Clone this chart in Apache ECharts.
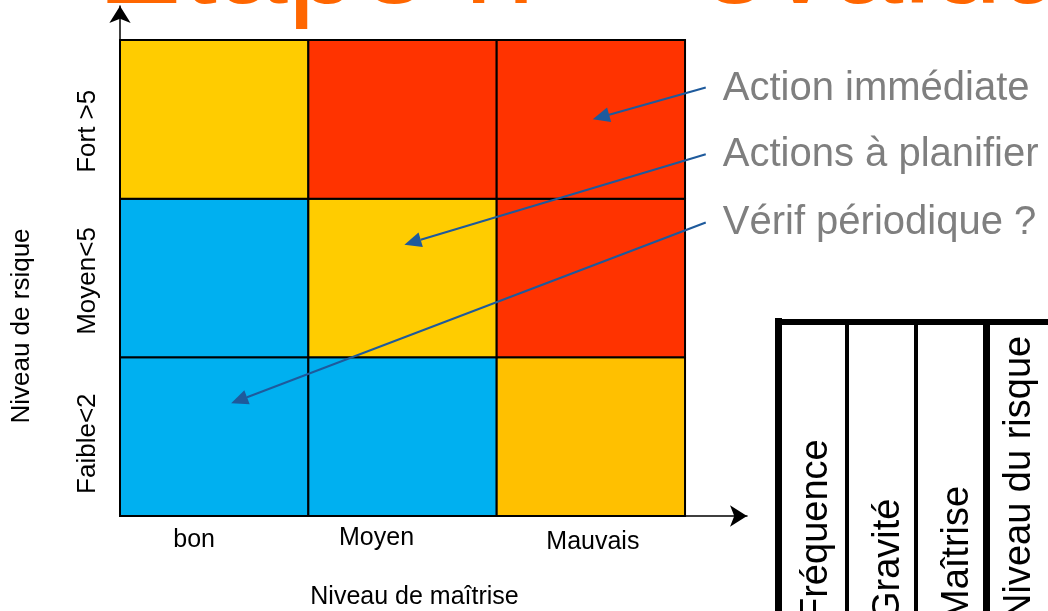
<!DOCTYPE html>
<html>
<head>
<meta charset="utf-8">
<script src="https://cdn.jsdelivr.net/npm/echarts@6/dist/echarts.min.js"></script>
<style>html,body{margin:0;padding:0;background:#fff;}#c{width:1048px;height:611px;}</style>
</head>
<body>
<div id="c"></div>
<script>
// ---- data ----
const titleText = 'Etape n° - évaluation';
const xCategories = ['bon', 'Moyen', 'Mauvais'];
const yCategories = ['Faible<2', 'Moyen<5', 'Fort >5'];
const xAxisTitle = 'Niveau de maîtrise';
const yAxisTitle = 'Niveau de rsique';
// risk level per cell, rows from bottom (Faible) to top (Fort), columns bon -> Mauvais
// 1 = vérif périodique, 2 = actions à planifier, 3 = action immédiate, 4 = planifier (variante)
const riskLevels = [
  [1, 1, 4],
  [1, 2, 3],
  [2, 3, 3]
];
const actionLabels = ['Action immédiate', 'Actions à planifier', 'Vérif périodique ?'];
// arrows in axis units: [fromX, fromY, toX, toY]
const actionArrows = [
  [3.11, 2.70, 2.51, 2.50],
  [3.11, 2.28, 1.51, 1.71],
  [3.11, 1.85, 0.59, 0.71]
];
const tableHeaders = ['Fréquence', 'Gravité', 'Maîtrise', 'Niveau du risque'];

// ---- styles / layout ----
const FONT = "'Liberation Sans', Arial, Helvetica, sans-serif";
const levelColors = {1: '#00B0F0', 2: '#FFCC00', 3: '#FF3300', 4: '#FFC000'};
const xLabelShift = [[-20, 7], [-26, 2], [2, 11]];
const yLabelShift = [7, 3, 12];
const tableHeaderX = [817, 889, 958, 1020];

const cellData = [];
riskLevels.forEach((row, yi) => row.forEach((lvl, xi) => cellData.push([xi, yi, lvl])));
const arrowData = actionArrows.map((a, i) => a.concat([i]));

const xRich = {}, yRich = {};
xCategories.forEach((c, i) => {
  const dx = xLabelShift[i][0], dy = xLabelShift[i][1];
  xRich['x' + i] = {fontSize: 25, fontFamily: FONT, color: '#000', lineHeight: 26,
    padding: [dy, dx < 0 ? -2 * dx : 0, 0, dx > 0 ? 2 * dx : 0]};
});
yCategories.forEach((c, i) => {
  yRich['y' + i] = {fontSize: 26, fontFamily: FONT, color: '#000', lineHeight: 26,
    padding: [0, 2 * yLabelShift[i], 0, 0]};
});
function catFormatter(cats, key) {
  return function (v) {
    const k = Math.round(v * 2);
    if (Math.abs(v * 2 - k) < 1e-6 && k % 2 === 1) {
      const i = (k - 1) / 2;
      if (cats[i] !== undefined) return '{' + key + i + '|' + cats[i] + '}';
    }
    return '';
  };
}

const graphics = [
  {type: 'text', x: 97, y: -32, style: {text: titleText, fill: '#FF6600', fontSize: 127,
    fontFamily: FONT, align: 'left', verticalAlign: 'middle'}},
  {type: 'rect', shape: {x: 775, y: 318, width: 7, height: 300}, style: {fill: '#000'}},
  {type: 'rect', shape: {x: 775, y: 319, width: 280, height: 6}, style: {fill: '#000'}},
  {type: 'rect', shape: {x: 845, y: 319, width: 4, height: 300}, style: {fill: '#000'}},
  {type: 'rect', shape: {x: 914, y: 319, width: 4, height: 300}, style: {fill: '#000'}},
  {type: 'rect', shape: {x: 983, y: 319, width: 7, height: 300}, style: {fill: '#000'}}
];
tableHeaders.forEach((h, i) => {
  graphics.push({type: 'text', x: tableHeaderX[i], y: 621, rotation: Math.PI / 2,
    style: {text: h, fill: '#000', fontSize: 38, fontFamily: FONT, align: 'left', verticalAlign: 'middle'}});
});

const chart = echarts.init(document.getElementById('c'));
chart.setOption({
  animation: false,
  backgroundColor: '#fff',
  grid: {left: 120, right: 301, top: 6, bottom: 95, containLabel: false, outerBoundsMode: 'none'},
  xAxis: {
    type: 'value', min: 0, max: 3.329, interval: 0.5,
    axisLine: {show: true, onZero: false, symbol: ['none', 'arrow'], symbolSize: [16, 17],
      lineStyle: {color: '#000', width: 1.5}},
    axisTick: {show: false}, splitLine: {show: false},
    axisLabel: {margin: 8, formatter: catFormatter(xCategories, 'x'), rich: xRich},
    name: xAxisTitle, nameLocation: 'middle', nameGap: 68,
    nameTextStyle: {fontSize: 25, fontFamily: FONT, color: '#000', lineHeight: 26, padding: [0, 38, 0, 0]}
  },
  yAxis: {
    type: 'value', min: 0, max: 3.214, interval: 0.5,
    axisLine: {show: true, onZero: false, symbol: ['none', 'arrow'], symbolSize: [16, 17],
      lineStyle: {color: '#000', width: 1.5}},
    axisTick: {show: false}, splitLine: {show: false},
    axisLabel: {margin: 19, rotate: 90, formatter: catFormatter(yCategories, 'y'), rich: yRich},
    name: yAxisTitle, nameLocation: 'middle', nameGap: 85, nameRotate: 90,
    nameTextStyle: {fontSize: 26, fontFamily: FONT, color: '#000', lineHeight: 26, padding: [0, 130, 0, 0]}
  },
  series: [
    {
      type: 'custom', clip: false, data: cellData, encode: {x: 0, y: 1},
      renderItem: function (params, api) {
        const x = api.value(0), y = api.value(1), lvl = api.value(2);
        const p0 = api.coord([x, y + 1]);
        const p1 = api.coord([x + 1, y]);
        return {type: 'rect', shape: {x: p0[0], y: p0[1], width: p1[0] - p0[0], height: p1[1] - p0[1]},
          style: {fill: levelColors[lvl], stroke: '#000', lineWidth: 2}};
      }
    },
    {
      type: 'custom', clip: false, data: arrowData, encode: {x: 0, y: 1}, z: 5,
      renderItem: function (params, api) {
        const from = api.coord([api.value(0), api.value(1)]);
        const to = api.coord([api.value(2), api.value(3)]);
        const idx = api.value(4);
        const ang = Math.atan2(to[1] - from[1], to[0] - from[0]);
        const L = 17, W = 7.5;
        const bx = to[0] - L * Math.cos(ang), by = to[1] - L * Math.sin(ang);
        const nx = -Math.sin(ang), ny = Math.cos(ang);
        return {type: 'group', children: [
          {type: 'line', shape: {x1: from[0], y1: from[1], x2: bx, y2: by},
            style: {stroke: '#1E5A9C', lineWidth: 2}},
          {type: 'polygon', shape: {points: [[to[0], to[1]], [bx + nx * W, by + ny * W], [bx - nx * W, by - ny * W]]},
            style: {fill: '#1E5A9C'}},
          {type: 'text', x: from[0] + 17, y: from[1] + 1,
            style: {text: actionLabels[idx], fill: '#7F7F7F', fontSize: 40, fontFamily: FONT,
              align: 'left', verticalAlign: 'middle'}}
        ]};
      }
    }
  ],
  graphic: graphics
});
</script>
</body>
</html>
